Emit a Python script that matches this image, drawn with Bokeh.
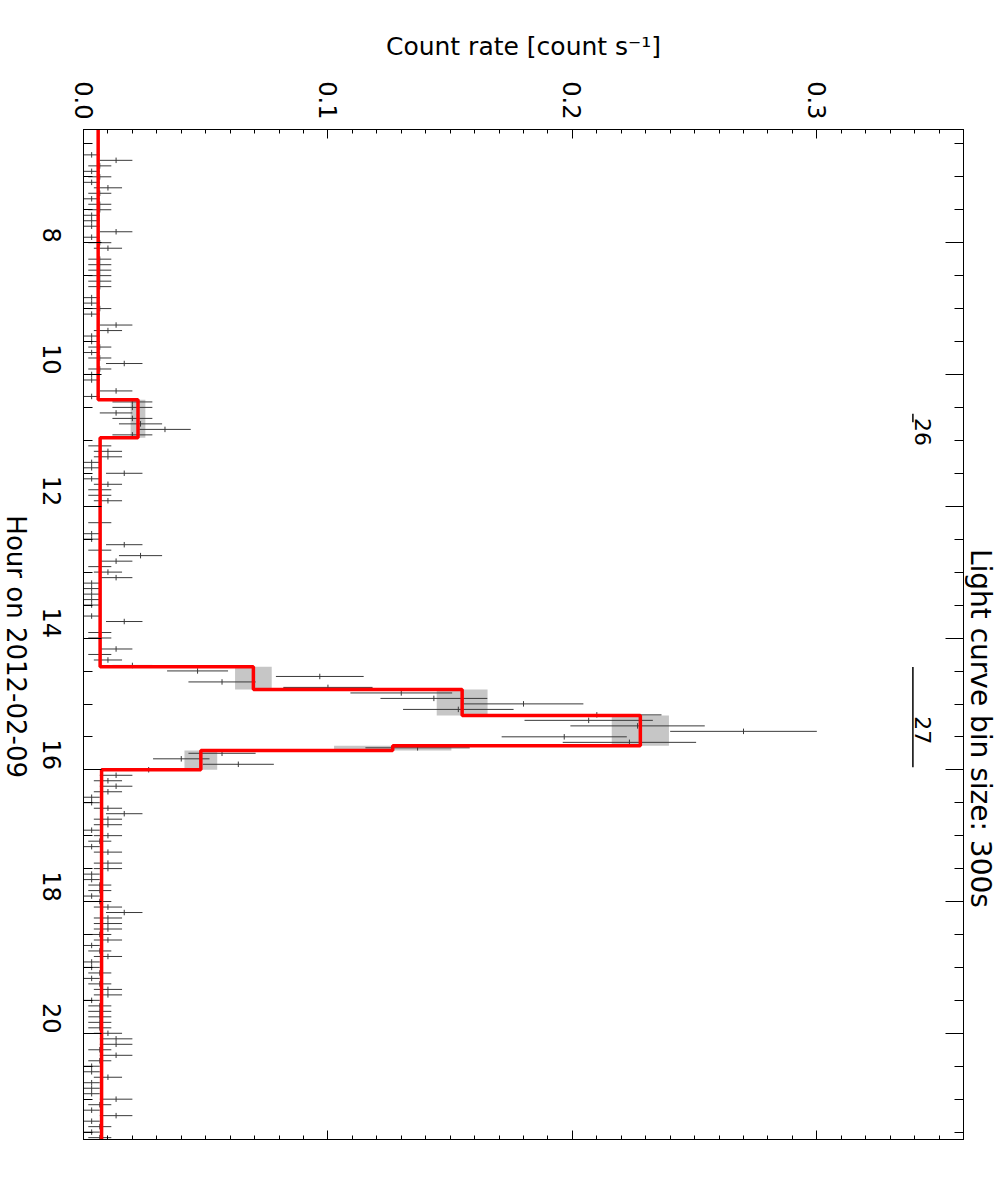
import math
from bokeh.plotting import figure
from bokeh.layouts import row
from bokeh.models import Range1d, LinearAxis, FixedTicker, NumeralTickFormatter
from bokeh.embed import file_html
from bokeh.resources import INLINE
from bokeh.core.properties import value

FONT = "DejaVu Sans"

# --- light curve: 300 s bins, hour of day (bin centres) and counts per bin ---
hours = [
    6.665, 6.748, 6.832, 6.915, 6.998, 7.082, 7.165, 7.248, 7.332, 7.415, 7.498, 7.582,
    7.665, 7.748, 7.832, 7.915, 7.998, 8.082, 8.165, 8.248, 8.332, 8.415, 8.498, 8.582,
    8.665, 8.748, 8.832, 8.915, 8.998, 9.082, 9.165, 9.248, 9.332, 9.415, 9.498, 9.582,
    9.665, 9.748, 9.832, 9.915, 9.998, 10.082, 10.165, 10.248, 10.332, 10.415, 10.498, 10.582,
    10.665, 10.748, 10.832, 10.915, 10.998, 11.082, 11.165, 11.248, 11.332, 11.415, 11.498, 11.582,
    11.665, 11.748, 11.832, 11.915, 11.998, 12.082, 12.165, 12.248, 12.332, 12.415, 12.498, 12.582,
    12.665, 12.748, 12.832, 12.915, 12.998, 13.082, 13.165, 13.248, 13.332, 13.415, 13.498, 13.582,
    13.665, 13.748, 13.832, 13.915, 13.998, 14.082, 14.165, 14.248, 14.332, 14.415, 14.498, 14.582,
    14.665, 14.748, 14.832, 14.915, 14.998, 15.082, 15.165, 15.248, 15.332, 15.415, 15.498, 15.582,
    15.665, 15.748, 15.832, 15.915, 15.998, 16.082, 16.165, 16.248, 16.332, 16.415, 16.498, 16.582,
    16.665, 16.748, 16.832, 16.915, 16.998, 17.082, 17.165, 17.248, 17.332, 17.415, 17.498, 17.582,
    17.665, 17.748, 17.832, 17.915, 17.998, 18.082, 18.165, 18.248, 18.332, 18.415, 18.498, 18.582,
    18.665, 18.748, 18.832, 18.915, 18.998, 19.082, 19.165, 19.248, 19.332, 19.415, 19.498, 19.582,
    19.665, 19.748, 19.832, 19.915, 19.998, 20.082, 20.165, 20.248, 20.332, 20.415, 20.498, 20.582,
    20.665, 20.748, 20.832, 20.915, 20.998, 21.082, 21.165, 21.248, 21.332, 21.415, 21.498, 21.582,
]
counts = [
    1, 4, 2, 1, 2, 1, 3, 2, 1, 2, 2, 1,
    1, 1, 4, 1, 2, 3, 0, 2, 2, 2, 2, 2,
    2, 0, 1, 1, 2, 1, 0, 4, 3, 1, 1, 2,
    1, 2, 5, 2, 1, 1, 0, 4, 1, 6, 6, 4,
    6, 7, 10, 6, 0, 2, 3, 3, 1, 1, 5, 1,
    3, 2, 2, 3, 0, 0, 0, 2, 0, 1, 1, 5,
    2, 7, 4, 2, 3, 4, 1, 1, 1, 1, 1, 0,
    1, 5, 0, 2, 2, 0, 4, 2, 3, 6, 14, 29,
    17, 30, 39, 43, 54, 46, 63, 62, 68, 81, 59, 67,
    41, 17, 12, 19, 8, 4, 3, 4, 3, 1, 1, 3,
    5, 3, 3, 1, 3, 2, 1, 3, 0, 3, 3, 1,
    1, 2, 2, 1, 2, 3, 5, 3, 3, 3, 2, 3,
    1, 2, 3, 1, 1, 2, 1, 2, 3, 3, 1, 2,
    2, 2, 2, 2, 3, 4, 4, 2, 4, 2, 1, 1,
    3, 1, 1, 1, 4, 2, 1, 4, 1, 2, 1, 2,
]
bin_seconds = 300.0

# --- Bayesian blocks (red step) with their uncertainty (grey boxes) ---
block_start = [6.20, 10.382, 10.959, 14.434, 14.778, 15.173, 15.633, 15.704, 15.997]
block_end = [10.382, 10.959, 14.434, 14.778, 15.173, 15.633, 15.704, 15.997, 21.70]
block_rate = [0.0060, 0.0223, 0.0068, 0.0695, 0.1549, 0.2278, 0.1265, 0.0480, 0.0074]
block_err = [0.0004, 0.0030, 0.0005, 0.0075, 0.0104, 0.0117, 0.0240, 0.0067, 0.0004]

# --- flare markers ---
flare_ids = ["26", "27"]
flare_start = [10.595, 14.44]
flare_end = [10.722, 15.96]
flare_label_hour = [10.87, 15.40]

x_title = "Count rate [count s\u207b\u00b9]"
y_title = "Hour on 2012-02-09"
y_title_centre_hour = 14.13
side_note = "Light curve bin size: 300s"
side_note_centre_hour = 15.37

rate = [c / bin_seconds for c in counts]
rate_err = [math.sqrt(c) / bin_seconds for c in counts]
half_bin_h = bin_seconds / 3600.0 / 2.0

H = 1180
LEFT_W, MAIN_W, RIGHT_W = 30, 934, 39

hour_range = Range1d(21.61, 6.28)

p = figure(width=MAIN_W, height=H,
           x_range=Range1d(0.0, 0.36), y_range=hour_range,
           x_axis_location="above", y_axis_location="left",
           output_backend="svg", toolbar_location=None,
           min_border_left=53, min_border_right=1,
           min_border_top=129, min_border_bottom=41)
p.background_fill_color = "white"
p.border_fill_color = "white"
p.outline_line_color = "black"
p.outline_line_width = 1
p.xgrid.visible = False
p.ygrid.visible = False

x_ticker = FixedTicker(ticks=[0.0, 0.1, 0.2, 0.3],
                       minor_ticks=[i / 100.0 for i in range(0, 37)])
y_ticker = FixedTicker(ticks=[8, 10, 12, 14, 16, 18, 20],
                       minor_ticks=[6.5 + 0.5 * i for i in range(31)])


def style_axis(ax, ticker, major_len, minor_len, labels=True):
    ax.ticker = ticker
    ax.major_tick_in = major_len
    ax.major_tick_out = 0
    ax.minor_tick_in = minor_len
    ax.minor_tick_out = 0
    ax.axis_line_color = "black"
    ax.major_tick_line_color = "black"
    ax.minor_tick_line_color = "black"
    if labels:
        ax.major_label_text_font = FONT
        ax.major_label_text_color = "black"
        ax.major_label_text_font_size = "24px"
        ax.major_label_orientation = -math.pi / 2
    else:
        ax.major_label_text_color = None
        ax.major_label_text_font_size = "1px"
        ax.major_label_standoff = 0


xa = p.xaxis[0]
style_axis(xa, x_ticker, 9, 4)
xa.formatter = NumeralTickFormatter(format="0.0")
xa.major_label_standoff = 10
xa.axis_label = x_title
xa.axis_label_text_font = FONT
xa.axis_label_text_font_style = "normal"
xa.axis_label_text_color = "black"
xa.axis_label_text_font_size = "25px"
xa.axis_label_standoff = 17

ya = p.yaxis[0]
style_axis(ya, y_ticker, 18, 9)
ya.formatter = NumeralTickFormatter(format="0")
ya.major_label_standoff = 32

xb = LinearAxis()
style_axis(xb, x_ticker, 9, 4, labels=False)
p.add_layout(xb, "below")
yr = LinearAxis()
style_axis(yr, y_ticker, 18, 9, labels=False)
p.add_layout(yr, "right")

# grey uncertainty boxes of the blocks
p.quad(left=[r - e for r, e in zip(block_rate, block_err)],
       right=[r + e for r, e in zip(block_rate, block_err)],
       top=block_start, bottom=block_end,
       fill_color="#c6c6c6", line_color=None)

# data points: rate error bars and time-bin marks
p.segment(x0=[r - e for r, e in zip(rate, rate_err)], x1=[r + e for r, e in zip(rate, rate_err)],
          y0=hours, y1=hours, line_color="#3a3a3a", line_width=1)
p.segment(x0=rate, x1=rate, y0=[h - half_bin_h for h in hours], y1=[h + half_bin_h for h in hours],
          line_color="#3a3a3a", line_width=1)

# red step of the blocks
step_x, step_y = [], []
for s, e, r in zip(block_start, block_end, block_rate):
    step_x += [r, r]
    step_y += [s, e]
p.line(step_x, step_y, line_color="red", line_width=3.5)

# flare markers
p.segment(x0=[0.3393] * len(flare_ids), x1=[0.3393] * len(flare_ids),
          y0=flare_start, y1=flare_end, line_color="black", line_width=1.5)
p.text(x=[0.3435] * len(flare_ids), y=flare_label_hour, text=flare_ids,
       angle=-math.pi / 2, text_align="center", text_baseline="middle",
       text_font=value(FONT), text_font_size="22px", text_color="black")


def side_strip(width, text, x_px, centre_hour, size):
    # narrow text-only strip; its frame lines up with the main frame, so it shares the hour range
    s = figure(width=width, height=H, x_range=Range1d(0, width), y_range=hour_range,
               x_axis_location=None, y_axis_location=None,
               output_backend="svg", toolbar_location=None,
               min_border=0, min_border_left=0, min_border_right=0,
               min_border_top=129, min_border_bottom=41)
    s.outline_line_color = None
    s.background_fill_color = "white"
    s.border_fill_color = "white"
    s.xgrid.visible = False
    s.ygrid.visible = False
    s.text(x=[x_px], y=[centre_hour], text=[text], angle=-math.pi / 2,
           text_align="center", text_baseline="middle", text_line_height=1.0,
           text_font=value(FONT), text_font_size=size, text_color="black")
    return s


left = side_strip(LEFT_W, y_title, 15, y_title_centre_hour, "26px")
right = side_strip(RIGHT_W, side_note, 16, side_note_centre_hour, "28px")

layout = row(left, p, right)
open("out.html", "w").write(file_html(layout, INLINE))
